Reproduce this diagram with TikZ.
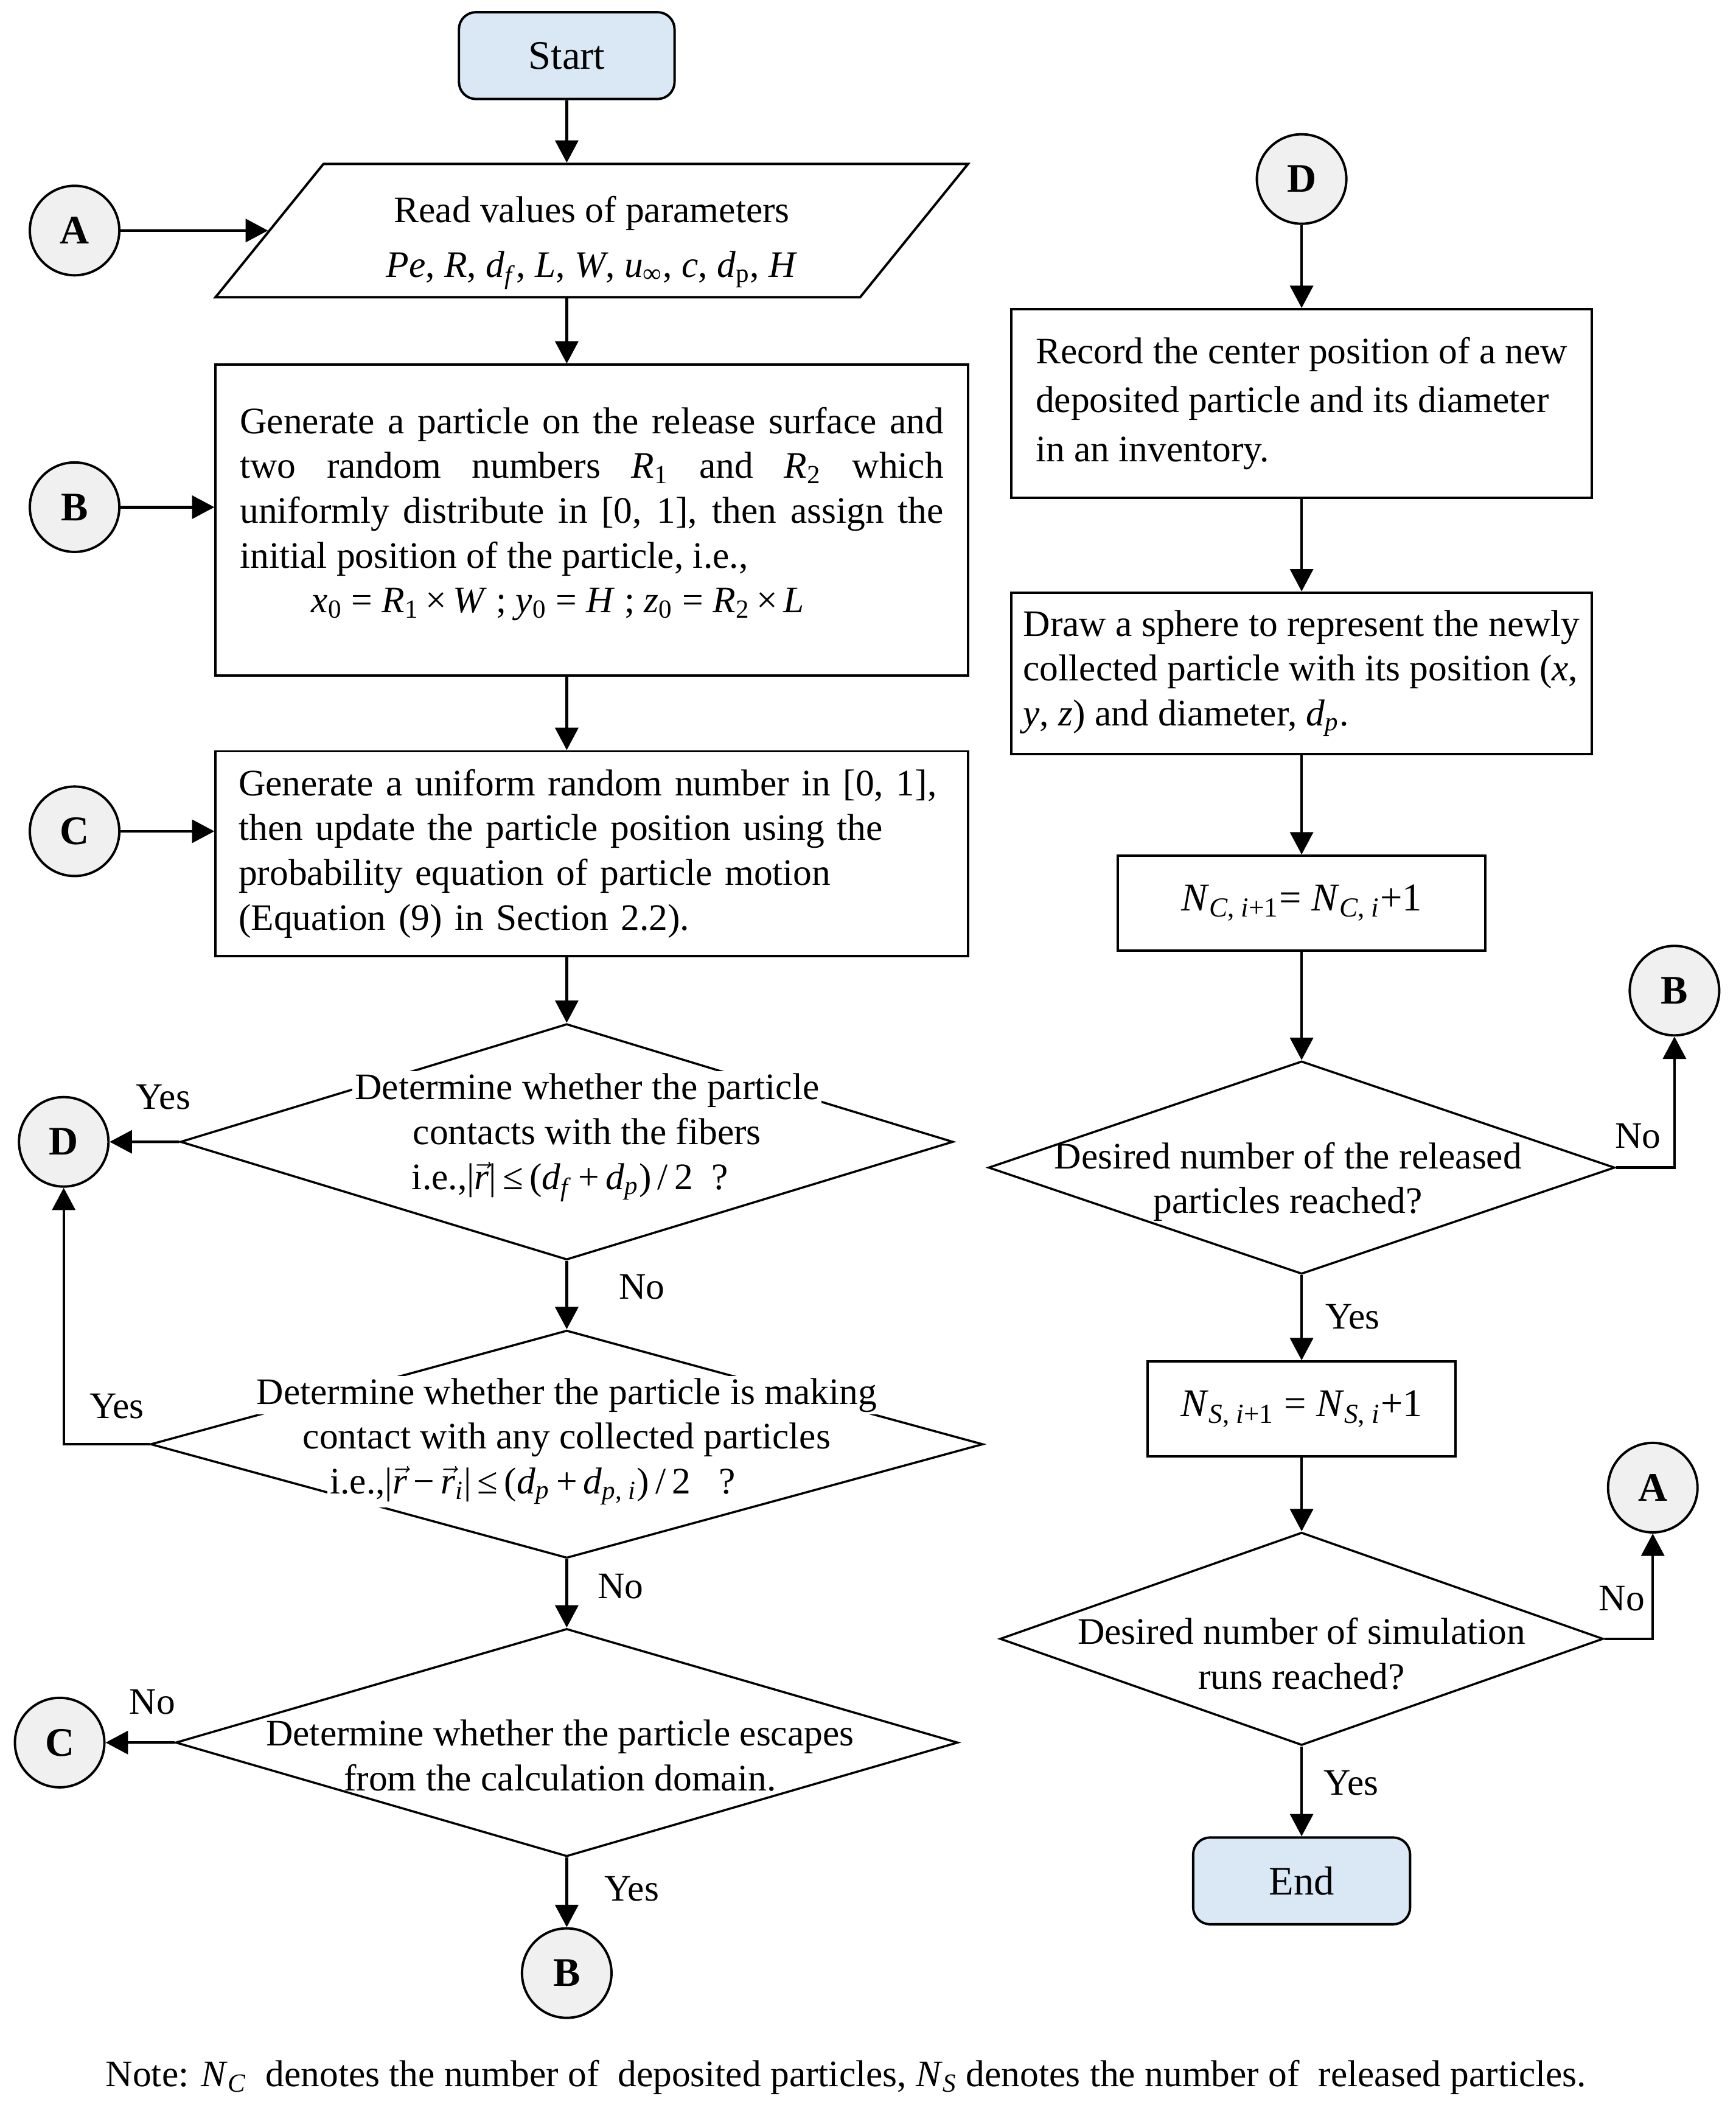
\documentclass[tikz,border=0pt]{standalone}
\usepackage{fontspec}
\setmainfont{Liberation Serif}
\usepackage{tikz}
\usetikzlibrary{arrows.meta,shapes.geometric,positioning}
\setlength{\parindent}{0pt}
\definecolor{fcblue}{RGB}{218,232,245}
\definecolor{fcgrey}{RGB}{240,240,240}
\newcommand{\bodyfont}{\fontsize{15.7}{18.8}\selectfont}
\newcommand{\itv}[1]{\textit{#1}}
\newcommand{\vecr}[1]{$\vec{\mbox{\textit{#1}}}$}
\newcommand{\gap}[1]{{\setlength{\fboxsep}{1pt}\colorbox{white}{#1}}}
\tikzstyle{arrow} = [line width=1.1pt,-{Triangle[length=0.33cm,width=0.34cm]}]
\tikzstyle{terminal} = [rectangle, rounded corners=0.25cm, minimum width=3.18cm, minimum height=1.28cm, draw, line width=1pt, fill=fcblue, font=\fontsize{17}{20}\selectfont]
\tikzstyle{process} = [rectangle, draw, line width=1pt, font=\bodyfont, inner ysep=0pt]
\tikzstyle{decision} = [diamond, draw, line width=0.9pt, inner sep=0pt]
\tikzstyle{dtext} = [font=\bodyfont, align=center, inner sep=1pt]
\tikzstyle{connector} = [circle, draw, line width=1pt, fill=fcgrey, minimum size=1.32cm, inner sep=0pt, font=\fontsize{17}{20}\selectfont\bfseries]
\tikzstyle{answer} = [font=\bodyfont, inner sep=0pt]

\begin{document}
\begin{tikzpicture}[node distance=3cm]
\useasboundingbox (0,0) rectangle (25.6,-31.37);
% Left column: start, input and particle motion
\node (start) [terminal] at (8.36,-0.82) {Start};

\node (params) [trapezium, trapezium left angle=51, trapezium right angle=129, trapezium stretches body, draw, line width=1pt, minimum width=11.1cm, minimum height=1.96cm, font=\bodyfont, align=center, node distance=2.58cm, below of=start, xshift=0.37cm] {\rule{0pt}{0.75cm}Read values of parameters\\[4pt]
\itv{Pe}, \itv{R}, \itv{d}\textsubscript{\itv{f}}, \itv{L}, \itv{W}, \itv{u}\textsubscript{∞}, \itv{c}, \itv{d}\textsubscript{p}, \itv{H}};

\node (release) [process, text width=10.38cm, inner xsep=0.36cm, align=justify, minimum width=11.1cm, minimum height=4.58cm, node distance=4.27cm, below of=params] {Generate a particle on the release surface and\linebreak
two random numbers \itv{R}\textsubscript{1} and \itv{R}\textsubscript{2} which\linebreak
uniformly distribute in [0, 1], then assign the\linebreak
initial position of the particle, i.e.,\\
\makebox[\linewidth][c]{\itv{x}\textsubscript{0} = \itv{R}\textsubscript{1}\,×\,\itv{W} ; \itv{y}\textsubscript{0} = \itv{H} ; \itv{z}\textsubscript{0} = \itv{R}\textsubscript{2}\,×\,\itv{L}\hspace{1cm}}\rule[-0.3cm]{0pt}{0pt}};

\node (move) [process, text width=10.42cm, inner xsep=0.34cm, align=left, minimum width=11.1cm, minimum height=3.02cm, node distance=4.92cm, below of=release] {Generate a uniform random number in [0, 1],\\
then update the particle position using the\\
probability equation of particle motion\\
(Equation (9) in Section 2.2).};

% Decisions on the left
\node (fibre) [decision, minimum width=11.4cm, minimum height=3.48cm, node distance=4.25cm, below of=move, xshift=-0.37cm,
  label={[dtext, xshift=0.3cm, yshift=0.08cm]center:{\gap{Determine whether the particle}\\ contacts with the fibers\\ i.e.,|\vecr{r}|\,≤\,(\itv{d}\textsubscript{\itv{f}}\,+\,\itv{d}\textsubscript{\itv{p}})\,/\,2~ ?\hspace*{0.5cm}}}] {};

\node (touch) [decision, minimum width=12.28cm, minimum height=3.36cm, node distance=4.46cm, below of=fibre,
  label={[dtext, yshift=0.04cm]center:{\gap{Determine whether the particle is making}\\ contact with any collected particles\\ \gap{i.e.,|\vecr{r}\,−\,\vecr{r}\textsubscript{\itv{i}}|\,≤\,(\itv{d}\textsubscript{\itv{p}}\,+\,\itv{d}\textsubscript{\itv{p}, \itv{i}})\,/\,2~~ ?}\hspace*{1.0cm}}}] {};

\node (escape) [decision, minimum width=11.54cm, minimum height=3.36cm, node distance=4.40cm, below of=touch,
  label={[dtext, xshift=-0.1cm, yshift=-0.19cm]center:{Determine whether the particle escapes\\ from the calculation domain.}}] {};

% Connectors on the left
\node (cA) [connector] at (1.10,-3.40) {A};
\node (cB) [connector] at (1.10,-7.48) {B};
\node (cC) [connector] at (1.10,-12.26) {C};
\node (cD) [connector] at (0.94,-16.84) {D};
\node (cCl) [connector] at (0.88,-25.70) {C};
\node (cBb) [connector, node distance=3.40cm, below of=escape] {B};

% Right column: deposition and counters
\node (cDr) [connector] at (19.2,-2.64) {D};

\node (record) [process, align=left, minimum width=8.56cm, minimum height=2.78cm, font=\fontsize{15.7}{20.5}\selectfont, node distance=3.31cm, below of=cDr] {Record the center position of a new\\
deposited particle and its diameter\\
in an inventory.};

\node (sphere) [process, align=left, minimum width=8.56cm, minimum height=2.38cm, node distance=3.98cm, below of=record] {Draw a sphere to represent the newly\\
collected particle with its position (\itv{x},\\
\itv{y}, \itv{z}) and diameter, \itv{d}\textsubscript{\itv{p}}.};

\node (countc) [process, minimum width=5.42cm, minimum height=1.40cm, font=\fontsize{16.5}{19}\selectfont, node distance=3.39cm, below of=sphere] {\itv{N}\textsubscript{\itv{C}, \itv{i}+1}= \itv{N}\textsubscript{\itv{C}, \itv{i}}+1};

\node (released) [decision, minimum width=9.24cm, minimum height=3.14cm, node distance=3.90cm, below of=countc,
  label={[dtext, xshift=-0.2cm, yshift=-0.21cm]center:{Desired number of the released\\ particles reached?}}] {};

\node (counts) [process, minimum width=4.54cm, minimum height=1.40cm, font=\fontsize{16.5}{19}\selectfont, node distance=3.56cm, below of=released] {\itv{N}\textsubscript{\itv{S}, \itv{i}+1} = \itv{N}\textsubscript{\itv{S}, \itv{i}}+1};

\node (runs) [decision, minimum width=8.90cm, minimum height=3.14cm, node distance=3.39cm, below of=counts,
  label={[dtext, yshift=-0.22cm]center:{Desired number of simulation\\ runs reached?}}] {};

\node (stop) [terminal, minimum width=3.2cm, node distance=3.57cm, below of=runs] {End};

\node (cBr) [connector] at (24.70,-14.61) {B};
\node (cAr) [connector] at (24.38,-21.94) {A};

% Note
\node (note) [font=\bodyfont] at (12.48,-30.64) {Note: \itv{N}\textsubscript{\itv{C}}~ denotes the number of~ deposited particles, \itv{N}\textsubscript{\itv{S}} denotes the number of~ released particles.};

% Arrows, left column
\draw[arrow] (start) -- (start |- params.north);
\draw[arrow] (cA) -- (params);
\draw[arrow] (params.south -| start) -- (release.north -| start);
\draw[arrow] (cB) -- (cB -| release.west);
\draw[arrow] (release.south -| start) -- (move.north -| start);
\draw[arrow] (cC) -- (cC -| move.west);
\draw[arrow] (move.south -| fibre) -- (fibre);
\draw[arrow] (fibre) -- node[answer, above=0.46cm, pos=0.23] {Yes} (cD);
\draw[arrow] (fibre) -- node[answer, right=0.75cm, pos=0.38] {No} (touch);
\draw[arrow] (touch) -| node[answer, above=0.36cm, pos=0.19] {Yes} (cD);
\draw[arrow] (touch) -- node[answer, right=0.44cm, pos=0.40] {No} (escape);
\draw[arrow] (escape) -- node[answer, above=0.40cm, pos=0.32] {No} (cCl);
\draw[arrow] (escape) -- node[answer, right=0.54cm, pos=0.45] {Yes} (cBb);

% Arrows, right column
\draw[arrow] (cDr) -- (record);
\draw[arrow] (record) -- (sphere);
\draw[arrow] (sphere) -- (countc);
\draw[arrow] (countc) -- (released);
\draw[arrow] (released) -- node[answer, right=0.33cm, pos=0.49] {Yes} (counts);
\draw[arrow] (released) -| node[answer, left=0.18cm, pos=0.62] {No} (cBr);
\draw[arrow] (counts) -- (runs);
\draw[arrow] (runs) -- node[answer, right=0.31cm, pos=0.41] {Yes} (stop);
\draw[arrow] (runs) -| node[answer, left=0.10cm, pos=0.69] {No} (cAr);
\end{tikzpicture}
\end{document}
